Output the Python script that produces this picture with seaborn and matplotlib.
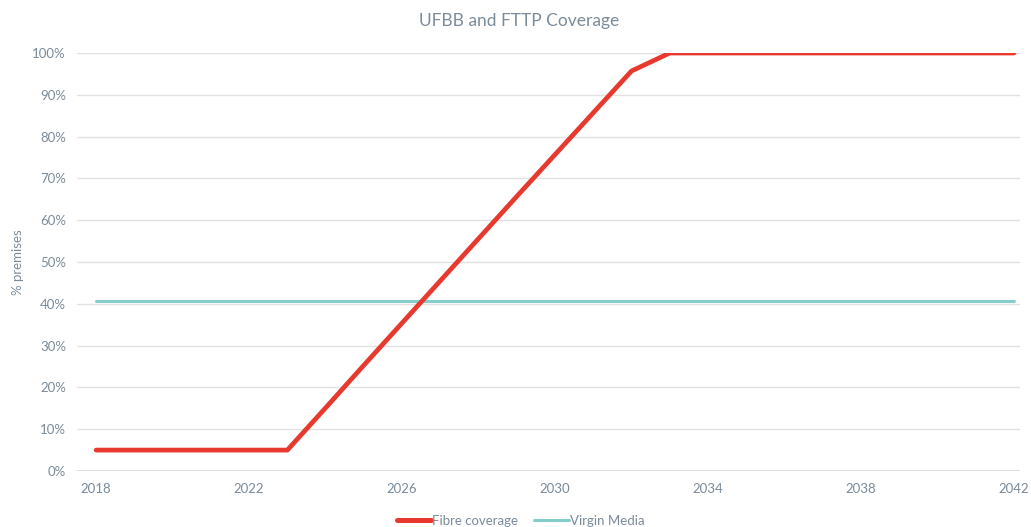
import matplotlib
matplotlib.use("Agg")
import matplotlib.pyplot as plt
import pandas as pd
import seaborn as sns
from matplotlib.ticker import PercentFormatter

years = list(range(2018, 2043))
fibre = [0.05, 0.05, 0.05, 0.05, 0.05, 0.05, 0.151, 0.253, 0.354, 0.455, 0.556,
         0.657, 0.757, 0.857, 0.957, 1.0, 1.0, 1.0, 1.0, 1.0, 1.0, 1.0, 1.0, 1.0, 1.0]
virgin = [0.407] * len(years)
series = ['Fibre coverage', 'Virgin Media']

df = pd.DataFrame({'year': years * 2,
                   'cov': fibre + virgin,
                   'series': [series[0]] * len(years) + [series[1]] * len(years)})

sns.set_style("white")
plt.rcParams['font.family'] = ['Lato', 'DejaVu Sans']
txt = '#7b8b9a'
clr = {'Fibre coverage': '#e8392f', 'Virgin Media': '#84cfcc'}

fig = plt.figure(figsize=(10.31, 5.27), dpi=100)
ax = fig.add_axes([0.0747, 0.1063, 0.9143, 0.7931])
sns.lineplot(data=df, x='year', y='cov', hue='series', palette=clr, ax=ax, legend=False)
ax.lines[0].set_linewidth(3.4)
ax.lines[1].set_linewidth(2.2)
ax.lines[0].set_zorder(3)

ax.set_xlim(2017.5, 2042.15)
ax.set_ylim(0, 1)
ax.set_xticks(range(2018, 2043, 4))
ax.set_yticks([i / 10 for i in range(11)])
ax.yaxis.set_major_formatter(PercentFormatter(1.0, decimals=0))
ax.grid(axis='y', color='#e1e1e1', linewidth=1)
ax.set_axisbelow(True)
for s in ax.spines.values():
    s.set_visible(False)
ax.axhline(0, color='#d4d8dc', linewidth=1.2, zorder=1)
ax.tick_params(length=0, labelsize=9.5, colors=txt, pad=8)
ax.tick_params(axis='x', pad=9)
ax.set_xlabel('')
ax.set_ylabel('% premises', color=txt, fontsize=9.5, labelpad=6)
fig.suptitle('UFBB and FTTP Coverage', color=txt, fontsize=12.5, x=0.504, y=0.975)

handles = [plt.Line2D([], [], color=clr[series[0]], lw=3.6),
           plt.Line2D([], [], color=clr[series[1]], lw=2.2)]
fig.legend(handles, series, loc='center', bbox_to_anchor=(0.505, 0.012), ncol=2,
           frameon=False, fontsize=9.5, labelcolor=txt, handlelength=2.6,
           handletextpad=0.1, columnspacing=1.2)

fig.savefig('out.png', dpi=100)
